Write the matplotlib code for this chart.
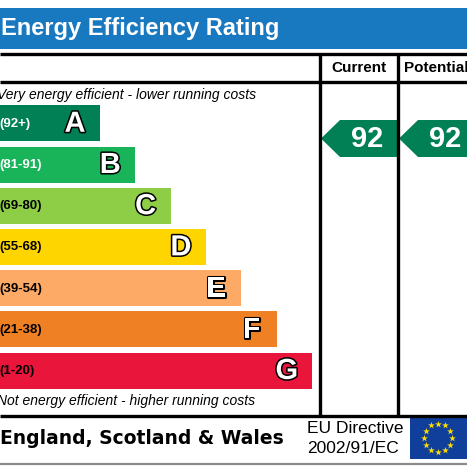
import numpy as np
import matplotlib
matplotlib.use("Agg")
import matplotlib.pyplot as plt
from matplotlib.patches import Polygon, Rectangle
import matplotlib.patheffects as pe

# ---- data ----
bands = ["A", "B", "C", "D", "E", "F", "G"]
ranges = ["(92+)", "(81-91)", "(69-80)", "(55-68)", "(39-54)", "(21-38)", "(1-20)"]
band_colors = ["#008054", "#19b459", "#8dce46", "#ffd500", "#fcaa65", "#ef8023", "#e9153b"]
range_text_colors = ["white", "white", "black", "black", "black", "black", "black"]
current_score = 92
potential_score = 92
title = "Energy Efficiency Rating"
col_labels = ["Current", "Potential"]
top_note = "Very energy efficient - lower running costs"
bottom_note = "Not energy efficient - higher running costs"
footer = "England, Scotland & Wales"
directive = ["EU Directive", "2002/91/EC"]

W = H = 467
fig = plt.figure(figsize=(4.67, 4.67), dpi=100)
ax = fig.add_axes([0, 0, 1, 1])
ax.set_xlim(0, W)
ax.set_ylim(H, 0)
ax.axis("off")

F = "Liberation Sans"

# title band
ax.add_patch(Rectangle((0, 8), W, 41, color="#1878c0", lw=0))
ax.text(1, 28.5, title, color="white", fontsize=17, fontweight="bold",
        family=F, va="center", ha="left")

# grid lines
lw = 2.4
ax.plot([0, W], [54, 54], color="black", lw=lw, solid_capstyle="butt")
ax.plot([0, W], [82, 82], color="black", lw=lw, solid_capstyle="butt")
ax.plot([0, W], [416, 416], color="black", lw=lw, solid_capstyle="butt")
ax.plot([320, 320], [54, 416], color="black", lw=lw, solid_capstyle="butt")
ax.plot([398, 398], [54, 416], color="black", lw=lw, solid_capstyle="butt")
ax.plot([0, W], [463.5, 463.5], color="#8a8a8a", lw=1.6, solid_capstyle="butt")

ax.text(359, 68, col_labels[0], fontsize=11, fontweight="bold", family=F,
        ha="center", va="center")
ax.text(404, 68, col_labels[1], fontsize=11, fontweight="bold", family=F,
        ha="left", va="center")

ax.text(-3, 94.5, top_note, fontsize=10, style="italic", family=F,
        ha="left", va="center")
ax.text(-3, 401, bottom_note, fontsize=10, style="italic", family=F,
        ha="left", va="center")

# bars
y0 = 123.3
pitch = 41.2
bh = 36
ys = [y0 + i * pitch for i in range(len(bands))]
rights = [100 + 35.3 * i for i in range(len(bands))]
left = -5
ax.barh(ys, [r - left for r in rights], left=left, height=bh,
        color=band_colors, lw=0)
for y, r, b, rg, tc in zip(ys, rights, bands, ranges, range_text_colors):
    ax.text(-1, y + 0.5, rg, color=tc, fontsize=9.5, fontweight="bold",
            family=F, ha="left", va="center")
    ax.text(r - 25, y + 0.5, b, color="white", fontsize=21, fontweight="bold",
            family=F, ha="center", va="center",
            path_effects=[pe.withStroke(linewidth=2.2, foreground="black")])

# arrows
def arrow(x_tip, x_end, score):
    yc, hh = 138.5, 18.5
    pts = [(x_tip, yc), (x_tip + 19, yc - hh), (x_end, yc - hh),
           (x_end, yc + hh), (x_tip + 19, yc + hh)]
    ax.add_patch(Polygon(pts, closed=True, color=band_colors[0], lw=0))
    return yc

yc = arrow(321, 397, current_score)
ax.text(367, yc + 0.5, str(current_score), color="white", fontsize=21,
        fontweight="bold", family=F, ha="center", va="center")
yc = arrow(399, 480, potential_score)
ax.text(445, yc + 0.5, str(potential_score), color="white", fontsize=21,
        fontweight="bold", family=F, ha="center", va="center")

# footer
ax.text(0, 438, footer, fontsize=13.5, fontweight="bold", family="DejaVu Sans",
        ha="left", va="center")
ax.text(307, 428.5, directive[0], fontsize=12.5, family=F, ha="left", va="center")
ax.text(307, 448.5, directive[1], fontsize=12.5, family=F, ha="left", va="center")

# EU flag
ax.add_patch(Rectangle((410, 418), 60, 41, color="#0f3f9a", lw=0))
ang = np.linspace(0, 2 * np.pi, 12, endpoint=False)
ax.scatter(438 + 14 * np.cos(ang), 437.5 + 14 * np.sin(ang), marker="*",
           s=26, color="#ffdd00", lw=0, zorder=5)

fig.savefig("out.png", dpi=100)
